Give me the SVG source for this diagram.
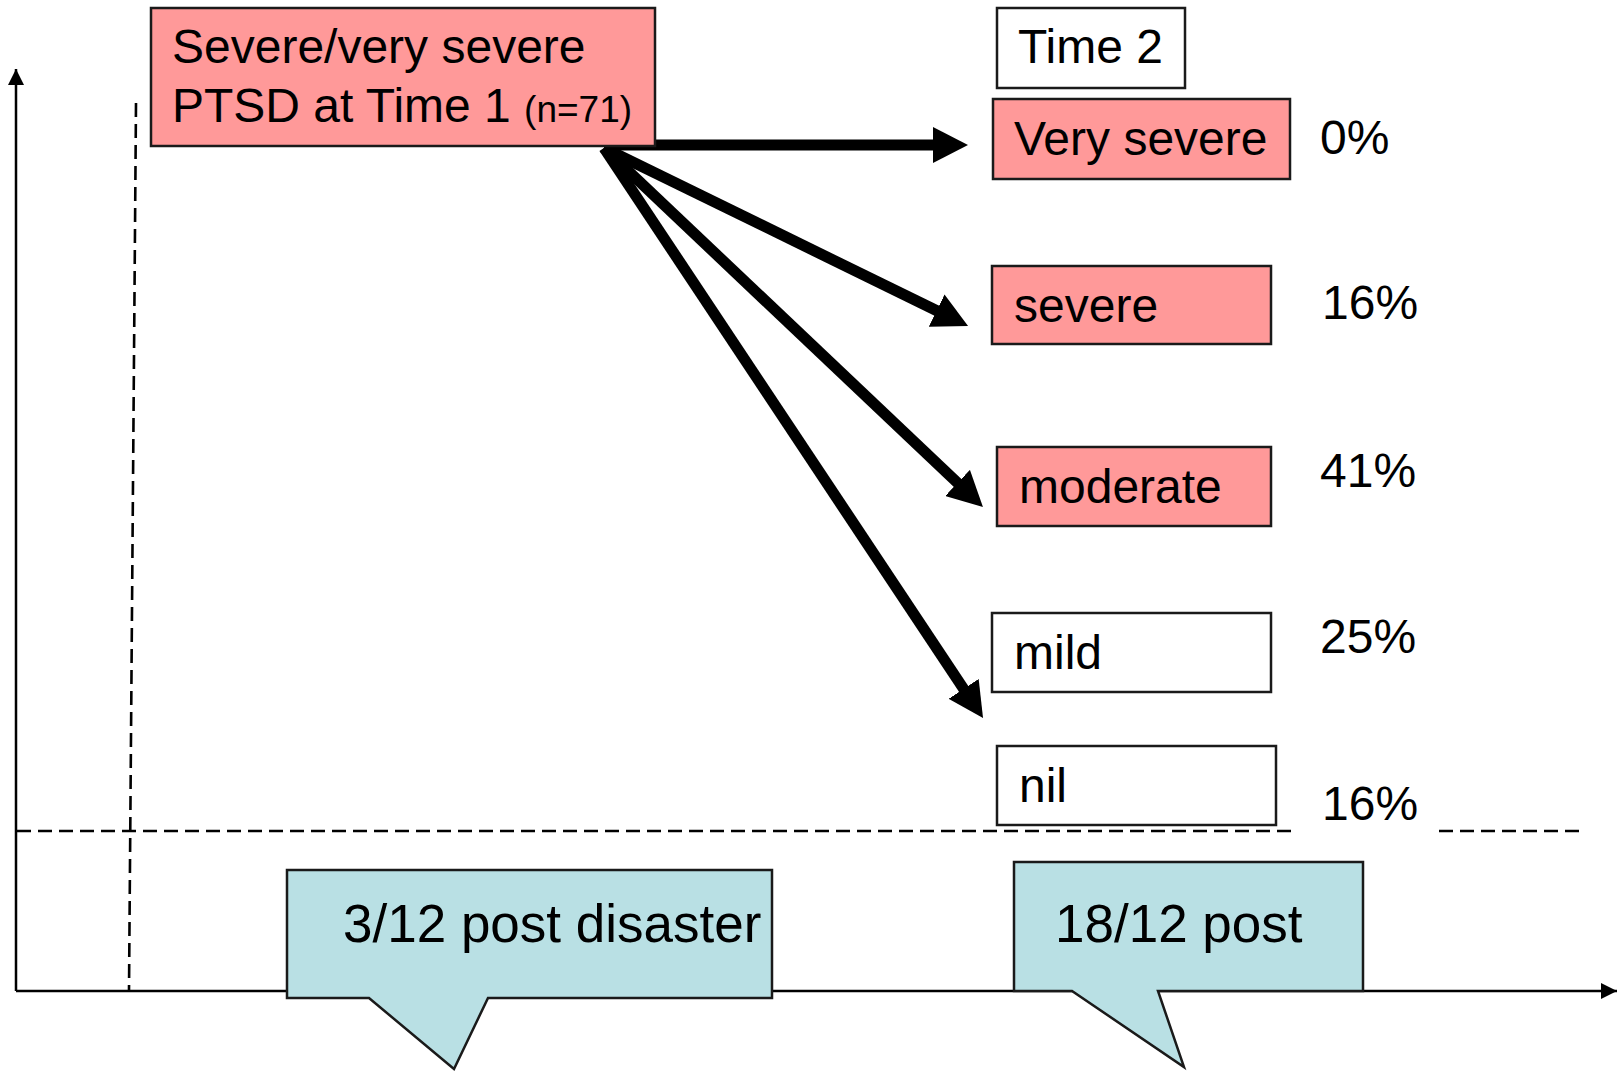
<svg xmlns="http://www.w3.org/2000/svg" width="1619" height="1071" viewBox="0 0 1619 1071">
  <style>
    text { font-family: "Liberation Sans", Arial, sans-serif; fill: #000; }
    .lbl { font-size: 48px; }
    .small { font-size: 37px; }
    .call { font-size: 53px; }
    .box { stroke: #1a1a1a; stroke-width: 2.5; }
    .hot { fill: #FF9999; }
    .plain { fill: #FFFFFF; }
    .bubble { fill: #B9E0E4; stroke: #1a1a1a; stroke-width: 2.5; stroke-linejoin: miter; }
    .axis { stroke: #000; stroke-width: 2.5; fill: none; }
    .guide { stroke: #000; stroke-width: 2.6; stroke-dasharray: 14 7; fill: none; }
    .flow { stroke: #000; stroke-width: 11; fill: none; }
  </style>
  <defs>
    <marker id="bigHead" markerUnits="userSpaceOnUse" markerWidth="36" markerHeight="36" refX="10" refY="18" orient="auto">
      <path d="M0,0 L35,18 L0,36 Z" fill="#000"/>
    </marker>
    <marker id="axisHead" markerUnits="userSpaceOnUse" markerWidth="16" markerHeight="16" refX="16" refY="8" orient="auto">
      <path d="M0,0 L16,8 L0,16 Z" fill="#000"/>
    </marker>
  </defs>

  <rect width="1619" height="1071" fill="#FFFFFF"/>

  <!-- axes and reference lines -->
  <g id="axes">
    <line class="axis" x1="16" y1="991" x2="16" y2="69" marker-end="url(#axisHead)"/>
    <line class="axis" x1="16" y1="991" x2="1617" y2="991" marker-end="url(#axisHead)"/>
    <line class="guide" x1="136" y1="103" x2="129" y2="990"/>
    <line class="guide" x1="17" y1="831" x2="1297" y2="831"/>
    <line class="guide" x1="1439" y1="831" x2="1580" y2="831"/>
  </g>

  <!-- transitions from Time 1 -->
  <g id="connectors">
    <line class="flow" x1="604" y1="145" x2="943" y2="145" marker-end="url(#bigHead)"/>
    <line class="flow" x1="604" y1="148" x2="945.6" y2="315" marker-end="url(#bigHead)"/>
    <line class="flow" x1="604" y1="148" x2="964.8" y2="489.8" marker-end="url(#bigHead)"/>
    <line class="flow" x1="604" y1="148" x2="969.2" y2="697.2" marker-end="url(#bigHead)"/>
  </g>

  <g id="time1">
    <rect class="box hot" x="151" y="8" width="504" height="138"/>
    <text class="lbl" x="172" y="63">Severe/very severe</text>
    <text class="lbl" x="172" y="122">PTSD at Time 1 <tspan class="small">(n=71)</tspan></text>
  </g>

  <g id="time2">
    <rect class="box plain" x="997" y="8" width="188" height="80"/>
    <text class="lbl" x="1018" y="63">Time 2</text>
  </g>

  <g id="very-severe">
    <rect class="box hot" x="993" y="99" width="297" height="80"/>
    <text class="lbl" x="1014" y="155">Very severe</text>
    <text class="lbl" x="1320" y="154">0%</text>
  </g>

  <g id="severe">
    <rect class="box hot" x="992" y="266" width="279" height="78"/>
    <text class="lbl" x="1014" y="322">severe</text>
    <text class="lbl" x="1322" y="319">16%</text>
  </g>

  <g id="moderate">
    <rect class="box hot" x="997" y="447" width="274" height="79"/>
    <text class="lbl" x="1019" y="503">moderate</text>
    <text class="lbl" x="1320" y="487">41%</text>
  </g>

  <g id="mild">
    <rect class="box plain" x="992" y="613" width="279" height="79"/>
    <text class="lbl" x="1014" y="669">mild</text>
    <text class="lbl" x="1320" y="653">25%</text>
  </g>

  <g id="nil">
    <rect class="box plain" x="997" y="746" width="279" height="79"/>
    <text class="lbl" x="1019" y="802">nil</text>
    <text class="lbl" x="1322" y="820">16%</text>
  </g>

  <g id="callout-3m">
    <path class="bubble" d="M287,870 H772 V998 H488 L454,1069 L369,998 H287 Z"/>
    <text class="call" x="343" y="942">3/12 post disaster</text>
  </g>

  <g id="callout-18m">
    <path class="bubble" d="M1014,862 H1363 V991 H1158 L1184,1067 L1072,991 H1014 Z"/>
    <text class="call" x="1055" y="942">18/12 post</text>
  </g>
</svg>
